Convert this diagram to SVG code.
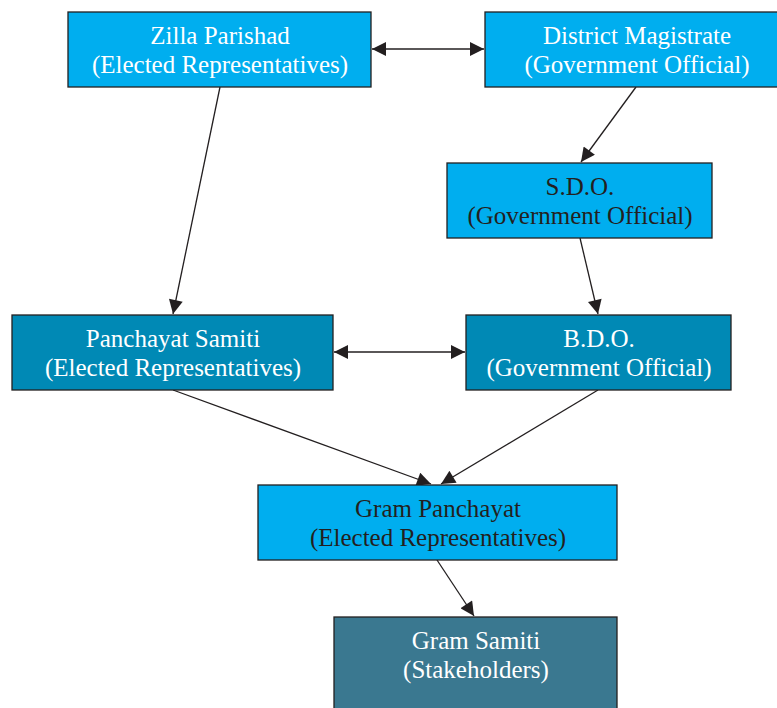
<svg xmlns="http://www.w3.org/2000/svg" width="777" height="708" viewBox="0 0 777 708">
<defs>
<style>
.box{stroke:#231f20;stroke-width:1.3}
.light{fill:#00aeef}
.mid{fill:#0089b5}
.dark{fill:#3a7890}
text{font-family:"Liberation Serif","Times New Roman",serif;font-size:25px;text-anchor:middle}
.w{fill:#ffffff}
.k{fill:#231f20}
.edge{stroke:#231f20;stroke-width:1.3;fill:none;marker-end:url(#ah)}
.both{marker-start:url(#as)}
</style>
<marker id="ah" viewBox="0 0 10 10" refX="10" refY="5" markerWidth="16" markerHeight="14" markerUnits="userSpaceOnUse" orient="auto"><path d="M0,0 L10,5 L0,10 z" fill="#231f20"/></marker>
<marker id="as" viewBox="0 0 10 10" refX="0" refY="5" markerWidth="16" markerHeight="14" markerUnits="userSpaceOnUse" orient="auto"><path d="M10,0 L0,5 L10,10 z" fill="#231f20"/></marker>
</defs>
<rect width="777" height="708" fill="#ffffff"/>
<g id="connectors">
<line class="edge both" x1="372" y1="49" x2="484" y2="49"/>
<line class="edge" x1="636" y1="87" x2="581" y2="162"/>
<line class="edge" x1="220" y1="87" x2="173" y2="314"/>
<line class="edge" x1="580" y1="238" x2="598" y2="314"/>
<line class="edge both" x1="334" y1="352" x2="465" y2="352"/>
<line class="edge" x1="173" y1="390" x2="431" y2="484"/>
<line class="edge" x1="598" y1="390" x2="441" y2="484"/>
<line class="edge" x1="437" y1="560" x2="474" y2="616"/>
</g>
<g id="zilla-parishad">
<rect class="box light" x="68" y="12" width="303" height="75"/>
<text class="w" x="220" y="44">Zilla Parishad</text>
<text class="w" x="220" y="73">(Elected Representatives)</text>
</g>
<g id="district-magistrate">
<rect class="box light" x="485" y="12" width="300" height="75"/>
<text class="w" x="637" y="44">District Magistrate</text>
<text class="w" x="637" y="73">(Government Official)</text>
</g>
<g id="sdo">
<rect class="box light" x="447" y="163" width="265" height="75"/>
<text class="k" x="580" y="195">S.D.O.</text>
<text class="k" x="580" y="224">(Government Official)</text>
</g>
<g id="panchayat-samiti">
<rect class="box mid" x="12" y="315" width="321" height="75"/>
<text class="w" x="173" y="347">Panchayat Samiti</text>
<text class="w" x="173" y="376">(Elected Representatives)</text>
</g>
<g id="bdo">
<rect class="box mid" x="466" y="315" width="265" height="75"/>
<text class="w" x="599" y="347">B.D.O.</text>
<text class="w" x="599" y="376">(Government Official)</text>
</g>
<g id="gram-panchayat">
<rect class="box light" x="258" y="485" width="359" height="75"/>
<text class="k" x="438" y="517">Gram Panchayat</text>
<text class="k" x="438" y="546">(Elected Representatives)</text>
</g>
<g id="gram-samiti">
<rect class="box dark" x="334" y="617" width="283" height="100"/>
<text class="w" x="476" y="649">Gram Samiti</text>
<text class="w" x="476" y="678">(Stakeholders)</text>
</g>
</svg>
